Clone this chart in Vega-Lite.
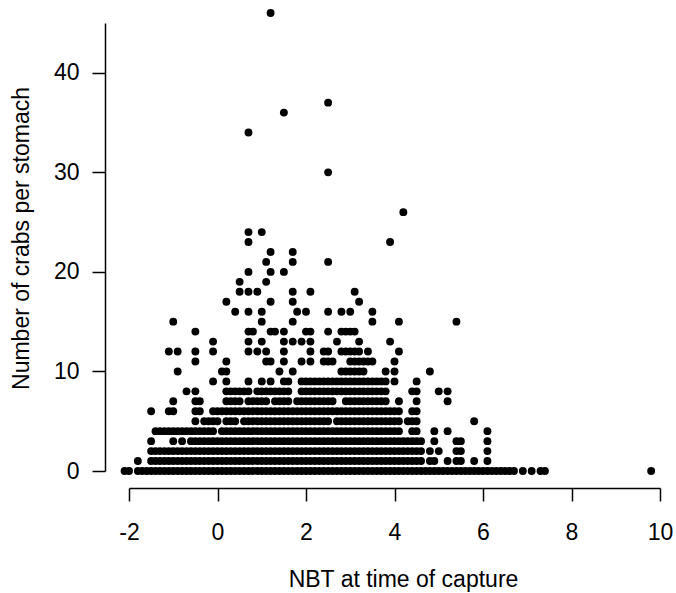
{
"$schema":"https://vega.github.io/schema/vega-lite/v6.json",
"width":531,"height":448,
"autosize":{"type":"none"},
"padding":{"left":129,"top":23,"right":16,"bottom":122},
"background":"white",
"config":{"view":{"stroke":null},"font":"Liberation Sans"},
"data":{"values":[
{"x":-2.1,"y":0},{"x":-2,"y":0},{"x":-1.8,"y":0},{"x":-1.7,"y":0},{"x":-1.6,"y":0},{"x":-1.5,"y":0},{"x":-1.4,"y":0},{"x":-1.3,"y":0},{"x":-1.2,"y":0},{"x":-1.1,"y":0},{"x":-1,"y":0},{"x":-0.9,"y":0},{"x":-0.8,"y":0},{"x":-0.7,"y":0},{"x":-0.6,"y":0},{"x":-0.5,"y":0},{"x":-0.4,"y":0},{"x":-0.3,"y":0},{"x":-0.2,"y":0},{"x":-0.1,"y":0},{"x":0,"y":0},{"x":0.1,"y":0},{"x":0.2,"y":0},{"x":0.3,"y":0},{"x":0.4,"y":0},{"x":0.5,"y":0},{"x":0.6,"y":0},{"x":0.7,"y":0},{"x":0.8,"y":0},{"x":0.9,"y":0},{"x":1,"y":0},{"x":1.1,"y":0},{"x":1.2,"y":0},{"x":1.3,"y":0},{"x":1.4,"y":0},{"x":1.5,"y":0},{"x":1.6,"y":0},{"x":1.7,"y":0},{"x":1.8,"y":0},{"x":1.9,"y":0},{"x":2,"y":0},{"x":2.1,"y":0},{"x":2.2,"y":0},{"x":2.3,"y":0},{"x":2.4,"y":0},{"x":2.5,"y":0},{"x":2.6,"y":0},{"x":2.7,"y":0},{"x":2.8,"y":0},{"x":2.9,"y":0},{"x":3,"y":0},{"x":3.1,"y":0},{"x":3.2,"y":0},{"x":3.3,"y":0},{"x":3.4,"y":0},{"x":3.5,"y":0},{"x":3.6,"y":0},{"x":3.7,"y":0},{"x":3.8,"y":0},{"x":3.9,"y":0},{"x":4,"y":0},{"x":4.1,"y":0},{"x":4.2,"y":0},{"x":4.3,"y":0},{"x":4.4,"y":0},{"x":4.5,"y":0},{"x":4.6,"y":0},{"x":4.7,"y":0},{"x":4.8,"y":0},{"x":4.9,"y":0},{"x":5,"y":0},{"x":5.1,"y":0},{"x":5.2,"y":0},{"x":5.3,"y":0},{"x":5.4,"y":0},{"x":5.5,"y":0},{"x":5.6,"y":0},{"x":5.7,"y":0},{"x":5.8,"y":0},{"x":5.9,"y":0},{"x":6,"y":0},{"x":6.1,"y":0},{"x":6.2,"y":0},{"x":6.3,"y":0},{"x":6.4,"y":0},{"x":6.5,"y":0},{"x":6.6,"y":0},{"x":6.7,"y":0},{"x":6.9,"y":0},{"x":7.1,"y":0},{"x":7.3,"y":0},{"x":7.4,"y":0},{"x":9.8,"y":0},
{"x":-1.8,"y":1},{"x":-1.5,"y":1},{"x":-1.4,"y":1},{"x":-1.3,"y":1},{"x":-1.2,"y":1},{"x":-1.1,"y":1},{"x":-1,"y":1},{"x":-0.9,"y":1},{"x":-0.8,"y":1},{"x":-0.7,"y":1},{"x":-0.6,"y":1},{"x":-0.5,"y":1},{"x":-0.4,"y":1},{"x":-0.3,"y":1},{"x":-0.2,"y":1},{"x":-0.1,"y":1},{"x":0,"y":1},{"x":0.1,"y":1},{"x":0.2,"y":1},{"x":0.3,"y":1},{"x":0.4,"y":1},{"x":0.5,"y":1},{"x":0.6,"y":1},{"x":0.7,"y":1},{"x":0.8,"y":1},{"x":0.9,"y":1},{"x":1,"y":1},{"x":1.1,"y":1},{"x":1.2,"y":1},{"x":1.3,"y":1},{"x":1.4,"y":1},{"x":1.5,"y":1},{"x":1.6,"y":1},{"x":1.7,"y":1},{"x":1.8,"y":1},{"x":1.9,"y":1},{"x":2,"y":1},{"x":2.1,"y":1},{"x":2.2,"y":1},{"x":2.3,"y":1},{"x":2.4,"y":1},{"x":2.5,"y":1},{"x":2.6,"y":1},{"x":2.7,"y":1},{"x":2.8,"y":1},{"x":2.9,"y":1},{"x":3,"y":1},{"x":3.1,"y":1},{"x":3.2,"y":1},{"x":3.3,"y":1},{"x":3.4,"y":1},{"x":3.5,"y":1},{"x":3.6,"y":1},{"x":3.7,"y":1},{"x":3.8,"y":1},{"x":3.9,"y":1},{"x":4,"y":1},{"x":4.1,"y":1},{"x":4.2,"y":1},{"x":4.3,"y":1},{"x":4.4,"y":1},{"x":4.5,"y":1},{"x":4.6,"y":1},{"x":4.8,"y":1},{"x":4.9,"y":1},{"x":5.2,"y":1},{"x":5.4,"y":1},{"x":5.5,"y":1},{"x":5.8,"y":1},{"x":6.1,"y":1},
{"x":-1.5,"y":2},{"x":-1.4,"y":2},{"x":-1.3,"y":2},{"x":-1.2,"y":2},{"x":-1.1,"y":2},{"x":-1,"y":2},{"x":-0.9,"y":2},{"x":-0.8,"y":2},{"x":-0.7,"y":2},{"x":-0.6,"y":2},{"x":-0.5,"y":2},{"x":-0.4,"y":2},{"x":-0.3,"y":2},{"x":-0.2,"y":2},{"x":-0.1,"y":2},{"x":0,"y":2},{"x":0.1,"y":2},{"x":0.2,"y":2},{"x":0.3,"y":2},{"x":0.4,"y":2},{"x":0.5,"y":2},{"x":0.6,"y":2},{"x":0.7,"y":2},{"x":0.8,"y":2},{"x":0.9,"y":2},{"x":1,"y":2},{"x":1.1,"y":2},{"x":1.2,"y":2},{"x":1.3,"y":2},{"x":1.4,"y":2},{"x":1.5,"y":2},{"x":1.6,"y":2},{"x":1.7,"y":2},{"x":1.8,"y":2},{"x":1.9,"y":2},{"x":2,"y":2},{"x":2.1,"y":2},{"x":2.2,"y":2},{"x":2.3,"y":2},{"x":2.4,"y":2},{"x":2.5,"y":2},{"x":2.6,"y":2},{"x":2.7,"y":2},{"x":2.8,"y":2},{"x":2.9,"y":2},{"x":3,"y":2},{"x":3.1,"y":2},{"x":3.2,"y":2},{"x":3.3,"y":2},{"x":3.4,"y":2},{"x":3.5,"y":2},{"x":3.6,"y":2},{"x":3.7,"y":2},{"x":3.8,"y":2},{"x":3.9,"y":2},{"x":4,"y":2},{"x":4.1,"y":2},{"x":4.2,"y":2},{"x":4.3,"y":2},{"x":4.4,"y":2},{"x":4.5,"y":2},{"x":4.6,"y":2},{"x":4.8,"y":2},{"x":5,"y":2},{"x":5.4,"y":2},{"x":5.5,"y":2},{"x":6.1,"y":2},
{"x":-1.5,"y":3},{"x":-1,"y":3},{"x":-0.8,"y":3},{"x":-0.6,"y":3},{"x":-0.5,"y":3},{"x":-0.4,"y":3},{"x":-0.3,"y":3},{"x":-0.2,"y":3},{"x":-0.1,"y":3},{"x":0,"y":3},{"x":0.1,"y":3},{"x":0.2,"y":3},{"x":0.3,"y":3},{"x":0.4,"y":3},{"x":0.5,"y":3},{"x":0.6,"y":3},{"x":0.7,"y":3},{"x":0.8,"y":3},{"x":0.9,"y":3},{"x":1,"y":3},{"x":1.1,"y":3},{"x":1.2,"y":3},{"x":1.3,"y":3},{"x":1.4,"y":3},{"x":1.5,"y":3},{"x":1.6,"y":3},{"x":1.7,"y":3},{"x":1.8,"y":3},{"x":1.9,"y":3},{"x":2,"y":3},{"x":2.1,"y":3},{"x":2.2,"y":3},{"x":2.3,"y":3},{"x":2.4,"y":3},{"x":2.5,"y":3},{"x":2.6,"y":3},{"x":2.7,"y":3},{"x":2.8,"y":3},{"x":2.9,"y":3},{"x":3,"y":3},{"x":3.1,"y":3},{"x":3.2,"y":3},{"x":3.3,"y":3},{"x":3.4,"y":3},{"x":3.5,"y":3},{"x":3.6,"y":3},{"x":3.7,"y":3},{"x":3.8,"y":3},{"x":3.9,"y":3},{"x":4,"y":3},{"x":4.1,"y":3},{"x":4.2,"y":3},{"x":4.3,"y":3},{"x":4.4,"y":3},{"x":4.5,"y":3},{"x":4.6,"y":3},{"x":4.9,"y":3},{"x":5.4,"y":3},{"x":5.5,"y":3},{"x":6.1,"y":3},
{"x":-1.4,"y":4},{"x":-1.3,"y":4},{"x":-1.2,"y":4},{"x":-1.1,"y":4},{"x":-1,"y":4},{"x":-0.9,"y":4},{"x":-0.8,"y":4},{"x":-0.7,"y":4},{"x":-0.6,"y":4},{"x":-0.5,"y":4},{"x":-0.4,"y":4},{"x":-0.3,"y":4},{"x":-0.2,"y":4},{"x":-0.1,"y":4},{"x":0.1,"y":4},{"x":0.2,"y":4},{"x":0.3,"y":4},{"x":0.4,"y":4},{"x":0.5,"y":4},{"x":0.6,"y":4},{"x":0.7,"y":4},{"x":0.8,"y":4},{"x":0.9,"y":4},{"x":1,"y":4},{"x":1.1,"y":4},{"x":1.2,"y":4},{"x":1.3,"y":4},{"x":1.4,"y":4},{"x":1.5,"y":4},{"x":1.6,"y":4},{"x":1.7,"y":4},{"x":1.8,"y":4},{"x":1.9,"y":4},{"x":2,"y":4},{"x":2.1,"y":4},{"x":2.2,"y":4},{"x":2.3,"y":4},{"x":2.4,"y":4},{"x":2.5,"y":4},{"x":2.6,"y":4},{"x":2.7,"y":4},{"x":2.8,"y":4},{"x":2.9,"y":4},{"x":3,"y":4},{"x":3.1,"y":4},{"x":3.2,"y":4},{"x":3.3,"y":4},{"x":3.4,"y":4},{"x":3.5,"y":4},{"x":3.6,"y":4},{"x":3.7,"y":4},{"x":3.8,"y":4},{"x":3.9,"y":4},{"x":4,"y":4},{"x":4.1,"y":4},{"x":4.4,"y":4},{"x":4.5,"y":4},{"x":4.9,"y":4},{"x":5.2,"y":4},{"x":6.1,"y":4},
{"x":-0.5,"y":5},{"x":-0.3,"y":5},{"x":-0.2,"y":5},{"x":-0.1,"y":5},{"x":0,"y":5},{"x":0.2,"y":5},{"x":0.3,"y":5},{"x":0.4,"y":5},{"x":0.6,"y":5},{"x":0.7,"y":5},{"x":0.8,"y":5},{"x":0.9,"y":5},{"x":1,"y":5},{"x":1.1,"y":5},{"x":1.2,"y":5},{"x":1.3,"y":5},{"x":1.4,"y":5},{"x":1.5,"y":5},{"x":1.6,"y":5},{"x":1.7,"y":5},{"x":1.8,"y":5},{"x":1.9,"y":5},{"x":2,"y":5},{"x":2.1,"y":5},{"x":2.2,"y":5},{"x":2.3,"y":5},{"x":2.4,"y":5},{"x":2.5,"y":5},{"x":2.7,"y":5},{"x":2.8,"y":5},{"x":2.9,"y":5},{"x":3,"y":5},{"x":3.1,"y":5},{"x":3.2,"y":5},{"x":3.3,"y":5},{"x":3.4,"y":5},{"x":3.5,"y":5},{"x":3.6,"y":5},{"x":3.7,"y":5},{"x":3.8,"y":5},{"x":3.9,"y":5},{"x":4,"y":5},{"x":4.1,"y":5},{"x":4.3,"y":5},{"x":4.4,"y":5},{"x":4.5,"y":5},{"x":5.8,"y":5},
{"x":-1.5,"y":6},{"x":-1.1,"y":6},{"x":-1,"y":6},{"x":-0.5,"y":6},{"x":-0.4,"y":6},{"x":-0.1,"y":6},{"x":0,"y":6},{"x":0.1,"y":6},{"x":0.2,"y":6},{"x":0.3,"y":6},{"x":0.4,"y":6},{"x":0.5,"y":6},{"x":0.6,"y":6},{"x":0.7,"y":6},{"x":0.8,"y":6},{"x":0.9,"y":6},{"x":1,"y":6},{"x":1.1,"y":6},{"x":1.2,"y":6},{"x":1.3,"y":6},{"x":1.4,"y":6},{"x":1.5,"y":6},{"x":1.6,"y":6},{"x":1.7,"y":6},{"x":1.8,"y":6},{"x":1.9,"y":6},{"x":2,"y":6},{"x":2.1,"y":6},{"x":2.2,"y":6},{"x":2.3,"y":6},{"x":2.4,"y":6},{"x":2.5,"y":6},{"x":2.6,"y":6},{"x":2.7,"y":6},{"x":2.8,"y":6},{"x":2.9,"y":6},{"x":3,"y":6},{"x":3.1,"y":6},{"x":3.2,"y":6},{"x":3.3,"y":6},{"x":3.4,"y":6},{"x":3.5,"y":6},{"x":3.6,"y":6},{"x":3.7,"y":6},{"x":3.8,"y":6},{"x":3.9,"y":6},{"x":4,"y":6},{"x":4.1,"y":6},{"x":4.4,"y":6},{"x":4.5,"y":6},
{"x":-1,"y":7},{"x":-0.5,"y":7},{"x":-0.4,"y":7},{"x":0.2,"y":7},{"x":0.3,"y":7},{"x":0.4,"y":7},{"x":0.5,"y":7},{"x":0.7,"y":7},{"x":0.8,"y":7},{"x":0.9,"y":7},{"x":1,"y":7},{"x":1.1,"y":7},{"x":1.3,"y":7},{"x":1.4,"y":7},{"x":1.5,"y":7},{"x":1.6,"y":7},{"x":1.8,"y":7},{"x":1.9,"y":7},{"x":2,"y":7},{"x":2.1,"y":7},{"x":2.2,"y":7},{"x":2.3,"y":7},{"x":2.4,"y":7},{"x":2.5,"y":7},{"x":2.6,"y":7},{"x":2.9,"y":7},{"x":3,"y":7},{"x":3.1,"y":7},{"x":3.2,"y":7},{"x":3.3,"y":7},{"x":3.4,"y":7},{"x":3.5,"y":7},{"x":3.6,"y":7},{"x":3.7,"y":7},{"x":3.8,"y":7},{"x":4.1,"y":7},{"x":4.5,"y":7},{"x":5.2,"y":7},
{"x":-0.7,"y":8},{"x":-0.5,"y":8},{"x":0.2,"y":8},{"x":0.3,"y":8},{"x":0.4,"y":8},{"x":0.5,"y":8},{"x":0.6,"y":8},{"x":0.7,"y":8},{"x":0.9,"y":8},{"x":1,"y":8},{"x":1.1,"y":8},{"x":1.2,"y":8},{"x":1.3,"y":8},{"x":1.4,"y":8},{"x":1.5,"y":8},{"x":1.6,"y":8},{"x":1.9,"y":8},{"x":2,"y":8},{"x":2.1,"y":8},{"x":2.2,"y":8},{"x":2.3,"y":8},{"x":2.4,"y":8},{"x":2.5,"y":8},{"x":2.6,"y":8},{"x":2.7,"y":8},{"x":2.8,"y":8},{"x":2.9,"y":8},{"x":3,"y":8},{"x":3.1,"y":8},{"x":3.2,"y":8},{"x":3.3,"y":8},{"x":3.4,"y":8},{"x":3.5,"y":8},{"x":3.6,"y":8},{"x":3.7,"y":8},{"x":3.8,"y":8},{"x":4.4,"y":8},{"x":4.5,"y":8},{"x":5,"y":8},{"x":5.2,"y":8},
{"x":-0.1,"y":9},{"x":0.2,"y":9},{"x":0.7,"y":9},{"x":1,"y":9},{"x":1.2,"y":9},{"x":1.5,"y":9},{"x":1.6,"y":9},{"x":1.9,"y":9},{"x":2,"y":9},{"x":2.1,"y":9},{"x":2.2,"y":9},{"x":2.3,"y":9},{"x":2.4,"y":9},{"x":2.5,"y":9},{"x":2.6,"y":9},{"x":2.7,"y":9},{"x":2.8,"y":9},{"x":2.9,"y":9},{"x":3,"y":9},{"x":3.1,"y":9},{"x":3.2,"y":9},{"x":3.3,"y":9},{"x":3.4,"y":9},{"x":3.5,"y":9},{"x":3.6,"y":9},{"x":3.7,"y":9},{"x":3.8,"y":9},{"x":4,"y":9},{"x":4.5,"y":9},
{"x":-0.9,"y":10},{"x":0.1,"y":10},{"x":0.2,"y":10},{"x":1.4,"y":10},{"x":1.7,"y":10},{"x":2.8,"y":10},{"x":2.9,"y":10},{"x":3,"y":10},{"x":3.1,"y":10},{"x":3.2,"y":10},{"x":3.3,"y":10},{"x":3.8,"y":10},{"x":4,"y":10},{"x":4.8,"y":10},
{"x":-0.5,"y":11},{"x":0.2,"y":11},{"x":1.1,"y":11},{"x":1.2,"y":11},{"x":1.5,"y":11},{"x":1.9,"y":11},{"x":2.1,"y":11},{"x":2.4,"y":11},{"x":2.5,"y":11},{"x":2.6,"y":11},{"x":3,"y":11},{"x":3.1,"y":11},{"x":3.2,"y":11},{"x":3.3,"y":11},{"x":3.4,"y":11},{"x":3.5,"y":11},{"x":4,"y":11},
{"x":-1.1,"y":12},{"x":-0.9,"y":12},{"x":-0.5,"y":12},{"x":-0.1,"y":12},{"x":0.7,"y":12},{"x":0.9,"y":12},{"x":1.1,"y":12},{"x":1.5,"y":12},{"x":2.1,"y":12},{"x":2.4,"y":12},{"x":2.5,"y":12},{"x":2.8,"y":12},{"x":2.9,"y":12},{"x":3,"y":12},{"x":3.1,"y":12},{"x":3.2,"y":12},{"x":3.4,"y":12},{"x":4.1,"y":12},
{"x":-0.1,"y":13},{"x":0.7,"y":13},{"x":1,"y":13},{"x":1.5,"y":13},{"x":1.7,"y":13},{"x":1.9,"y":13},{"x":2.1,"y":13},{"x":2.7,"y":13},{"x":3.2,"y":13},{"x":3.9,"y":13},
{"x":-0.5,"y":14},{"x":0.7,"y":14},{"x":0.8,"y":14},{"x":1.2,"y":14},{"x":1.3,"y":14},{"x":1.5,"y":14},{"x":2,"y":14},{"x":2.1,"y":14},{"x":2.5,"y":14},{"x":2.8,"y":14},{"x":2.9,"y":14},{"x":3,"y":14},{"x":3.1,"y":14},
{"x":-1,"y":15},{"x":1,"y":15},{"x":1.7,"y":15},{"x":3.5,"y":15},{"x":4.1,"y":15},{"x":5.4,"y":15},
{"x":0.4,"y":16},{"x":0.7,"y":16},{"x":1,"y":16},{"x":1.8,"y":16},{"x":2,"y":16},{"x":2.5,"y":16},{"x":2.8,"y":16},{"x":3,"y":16},{"x":3.5,"y":16},
{"x":0.2,"y":17},{"x":1.2,"y":17},{"x":1.7,"y":17},{"x":3.2,"y":17},
{"x":0.5,"y":18},{"x":0.7,"y":18},{"x":0.9,"y":18},{"x":1.7,"y":18},{"x":2.1,"y":18},{"x":3.1,"y":18},
{"x":0.5,"y":19},{"x":1.1,"y":19},
{"x":0.7,"y":20},{"x":1.2,"y":20},{"x":1.5,"y":20},
{"x":1.1,"y":21},{"x":1.7,"y":21},{"x":2.5,"y":21},
{"x":1.2,"y":22},{"x":1.7,"y":22},
{"x":0.7,"y":23},{"x":3.9,"y":23},
{"x":0.7,"y":24},{"x":1,"y":24},
{"x":4.2,"y":26},{"x":2.5,"y":30},{"x":0.7,"y":34},{"x":1.5,"y":36},{"x":2.5,"y":37},{"x":1.2,"y":46}
]},
"mark":{"type":"point","filled":true,"shape":"circle","size":62,"color":"black","opacity":1,"strokeWidth":0,"clip":false},
"encoding":{
"x":{"field":"x","type":"quantitative","scale":{"domain":[-2,10],"nice":false,"zero":false},
"axis":{"values":[-2,0,2,4,6,8,10],"offset":17,"grid":false,"domainColor":"black","domainWidth":1.5,"tickColor":"black","tickWidth":1.5,"tickSize":13,
"labelExpr":"'' + datum.value","labelFlush":false,"labelOverlap":false,"labelFont":"Liberation Sans","labelFontSize":23,"labelColor":"black","labelPadding":20,
"title":"NBT at time of capture","titleFont":"Liberation Sans","titleFontSize":23,"titleFontWeight":"normal","titleColor":"black","titleBaseline":"alphabetic","titleAlign":"center","titleX":274,"titleY":98}},
"y":{"field":"y","type":"quantitative","scale":{"domain":[0,45],"nice":false,"zero":false},
"axis":{"values":[0,10,20,30,40],"offset":24,"grid":false,"domainColor":"black","domainWidth":1.5,"tickColor":"black","tickWidth":1.5,"tickSize":13,
"labelFlush":false,"labelOverlap":false,"labelFont":"Liberation Sans","labelFontSize":23,"labelColor":"black","labelPadding":13,
"title":"Number of crabs per stomach","titleFont":"Liberation Sans","titleFontSize":23,"titleFontWeight":"normal","titleColor":"black","titleAngle":-90,"titleBaseline":"alphabetic","titleAlign":"center","titleX":-77,"titleY":215}}
}
}
